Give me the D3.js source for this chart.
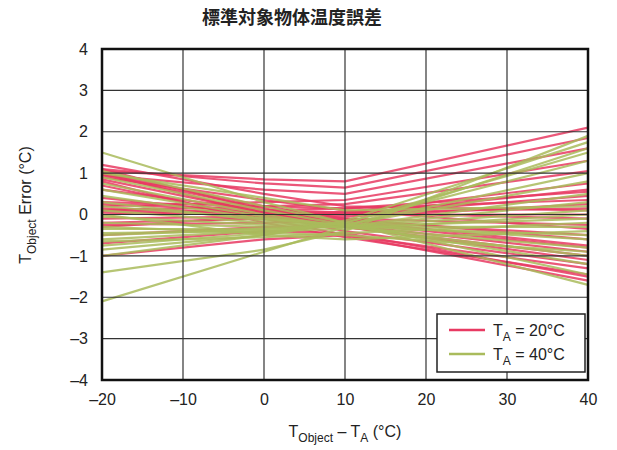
<!DOCTYPE html>
<html>
<head>
<meta charset="utf-8">
<script src="https://cdn.jsdelivr.net/npm/d3@7"></script>
<style>
body { margin: 0; background: #fff; }
text { font-family: "Liberation Sans", Arial, sans-serif; fill: #222; }
</style>
</head>
<body>
<svg width="617" height="450"></svg>
<script>
var width = 617;
var height = 450;
var margin = {top: 49, right: 29, bottom: 70, left: 102};

var title = "標準対象物体温度誤差";
var xPoints = [-20, 0, 10, 40]; // x positions where each curve has a value
var xTicks = [-20, -10, 0, 10, 20, 30, 40];
var yTicks = [-4, -3, -2, -1, 0, 1, 2, 3, 4];

// TA = 20°C, one row per unit, values at xPoints
var red20 = [
	[1.05, 0.85, 0.8, 2.1],
	[1.1, 0.75, 0.65, 1.85],
	[0.95, 0.6, 0.5, 1.6],
	[0.2, 0.3, 0.35, 1.3],
	[0.1, 0.2, 0.25, 1.05],
	[-0.3, -0.05, 0.05, 0.75],
	[0.0, 0.1, 0.15, 0.55],
	[0.3, 0.2, 0.15, 0.35],
	[0.1, 0.05, 0.05, 0.15],
	[0.05, 0.0, 0.0, 0.0],
	[-0.1, -0.05, -0.05, 0.25],
	[0.25, 0.1, 0.05, -0.1],
	[0.9, 0.35, 0.1, -0.35],
	[1.0, 0.2, -0.1, -0.6],
	[1.1, 0.1, -0.25, -0.9],
	[0.85, 0.05, -0.3, -1.0],
	[1.0, 0.0, -0.4, -1.2],
	[0.7, -0.1, -0.5, -1.3],
	[0.8, -0.2, -0.55, -1.45],
	[-0.5, -0.3, -0.3, -1.1],
	[-0.7, -0.4, -0.45, -1.5],
	[-1.0, -0.6, -0.5, -1.6],
	[0.4, 0.0, 0.0, 0.45],
	[-0.2, -0.1, -0.1, -0.25],
	[1.2, 0.5, 0.2, 0.1],
	[0.6, 0.1, -0.15, -0.75],
	[0.15, 0.05, 0.0, 0.6],
	[-0.25, -0.2, -0.15, -0.5],
	[0.95, 0.15, -0.2, -0.8]
];

// TA = 40°C
var green40 = [
	[1.5, 0.3, -0.2, -1.7],
	[1.05, 0.2, -0.2, -1.45],
	[0.9, 0.1, -0.25, -1.2],
	[0.75, 0.0, -0.3, -1.0],
	[0.6, -0.05, -0.3, -0.8],
	[0.45, -0.1, -0.3, -0.5],
	[0.3, -0.15, -0.3, -0.3],
	[0.1, -0.2, -0.3, -0.1],
	[-0.05, -0.25, -0.3, 0.1],
	[-0.2, -0.3, -0.3, 0.3],
	[-0.35, -0.35, -0.3, 0.5],
	[-0.5, -0.35, -0.25, 0.8],
	[-0.6, -0.4, -0.25, 1.0],
	[-0.75, -0.45, -0.2, 1.3],
	[-0.85, -0.5, -0.2, 1.5],
	[-1.0, -0.5, -0.15, 1.75],
	[-1.4, -0.85, -0.4, 1.9],
	[-2.1, -0.9, -0.3, 1.6],
	[0.2, -0.1, -0.25, -0.6],
	[-0.3, -0.45, -0.5, -0.9],
	[0.0, -0.5, -0.6, -0.4],
	[1.0, 0.4, 0.1, 0.2],
	[-0.65, -0.55, -0.45, -0.2],
	[-0.45, -0.4, -0.35, 0.0]
];

var series = [
	{name: "20°C", color: "#e83a62", rows: red20},
	{name: "40°C", color: "#a9bb5c", rows: green40}
];

var svg = d3.select("svg");
var pw = width - margin.left - margin.right;
var ph = height - margin.top - margin.bottom;

var x = d3.scaleLinear().domain([-20, 40]).range([margin.left, margin.left + pw]);
var y = d3.scaleLinear().domain([-4, 4]).range([margin.top + ph, margin.top]);

function fmt(v) { return v < 0 ? "\u2013" + Math.abs(v) : String(v); }

var line = d3.line()
	.x(function(d, i) { return x(xPoints[i]); })
	.y(function(d) { return y(d); });

// data lines
series.forEach(function(s) {
	svg.append("g")
		.selectAll("path")
		.data(s.rows)
		.enter()
		.append("path")
		.attr("d", line)
		.attr("fill", "none")
		.attr("stroke", s.color)
		.attr("stroke-width", 2.2)
		.attr("stroke-opacity", 0.85);
});

// grid on top of the lines
var grid = svg.append("g");
grid.selectAll("line.v")
	.data(xTicks)
	.enter().append("line")
	.attr("x1", x).attr("x2", x)
	.attr("y1", margin.top).attr("y2", margin.top + ph)
	.attr("stroke", "#333").attr("stroke-width", 1.2);
grid.selectAll("line.h")
	.data(yTicks)
	.enter().append("line")
	.attr("y1", y).attr("y2", y)
	.attr("x1", margin.left).attr("x2", margin.left + pw)
	.attr("stroke", "#333").attr("stroke-width", 1.2);

svg.append("rect")
	.attr("x", margin.left).attr("y", margin.top)
	.attr("width", pw).attr("height", ph)
	.attr("fill", "none").attr("stroke", "#111").attr("stroke-width", 2.5);

// axes
var xAxis = d3.axisBottom(x).tickValues(xTicks).tickSize(0).tickPadding(14).tickFormat(fmt);
var yAxis = d3.axisLeft(y).tickValues(yTicks).tickSize(0).tickPadding(14).tickFormat(fmt);

svg.append("g").attr("transform", "translate(0," + (margin.top + ph) + ")").call(xAxis)
	.call(function(g) { g.select(".domain").remove(); })
	.selectAll("text").style("font-size", "16px").style("fill", "#222")
	.style("font-family", "'Liberation Sans', Arial, sans-serif");
svg.append("g").attr("transform", "translate(" + margin.left + ",0)").call(yAxis)
	.call(function(g) { g.select(".domain").remove(); })
	.selectAll("text").style("font-size", "16px").style("fill", "#222")
	.style("font-family", "'Liberation Sans', Arial, sans-serif");

// title
svg.append("text")
	.attr("x", 292).attr("y", 24)
	.attr("text-anchor", "middle")
	.style("font-family", "'Noto Sans CJK JP', sans-serif")
	.style("font-weight", "bold")
	.style("font-size", "18px")
	.text(title);

// x title
var xt = svg.append("text")
	.attr("x", x(10)).attr("y", 437)
	.attr("text-anchor", "middle")
	.style("font-size", "16px");
xt.append("tspan").text("T");
xt.append("tspan").attr("dy", 5).style("font-size", "12px").text("Object");
xt.append("tspan").attr("dy", -5).text(" \u2013 T");
xt.append("tspan").attr("dy", 5).style("font-size", "12px").text("A");
xt.append("tspan").attr("dy", -5).text(" (°C)");

// y title
var yt = svg.append("text")
	.attr("transform", "translate(31," + 205 + ") rotate(-90)")
	.attr("text-anchor", "middle")
	.style("font-size", "16px");
yt.append("tspan").text("T");
yt.append("tspan").attr("dy", 5).style("font-size", "12px").text("Object");
yt.append("tspan").attr("dy", -5).text(" Error (°C)");

// legend
var lg = svg.append("g").attr("transform", "translate(437,314)");
lg.append("rect")
	.attr("width", 148).attr("height", 58)
	.attr("fill", "#fff").attr("stroke", "#222").attr("stroke-width", 1.5);
series.forEach(function(s, i) {
	var row = lg.append("g").attr("transform", "translate(0," + (16 + i * 24) + ")");
	row.append("line")
		.attr("x1", 12).attr("x2", 48)
		.attr("stroke", s.color).attr("stroke-width", 2.5);
	var t = row.append("text").attr("x", 56).attr("y", 6).style("font-size", "16px");
	t.append("tspan").text("T");
	t.append("tspan").attr("dy", 5).style("font-size", "12px").text("A");
	t.append("tspan").attr("dy", -5).text(" = " + s.name);
});
</script>
</body>
</html>
